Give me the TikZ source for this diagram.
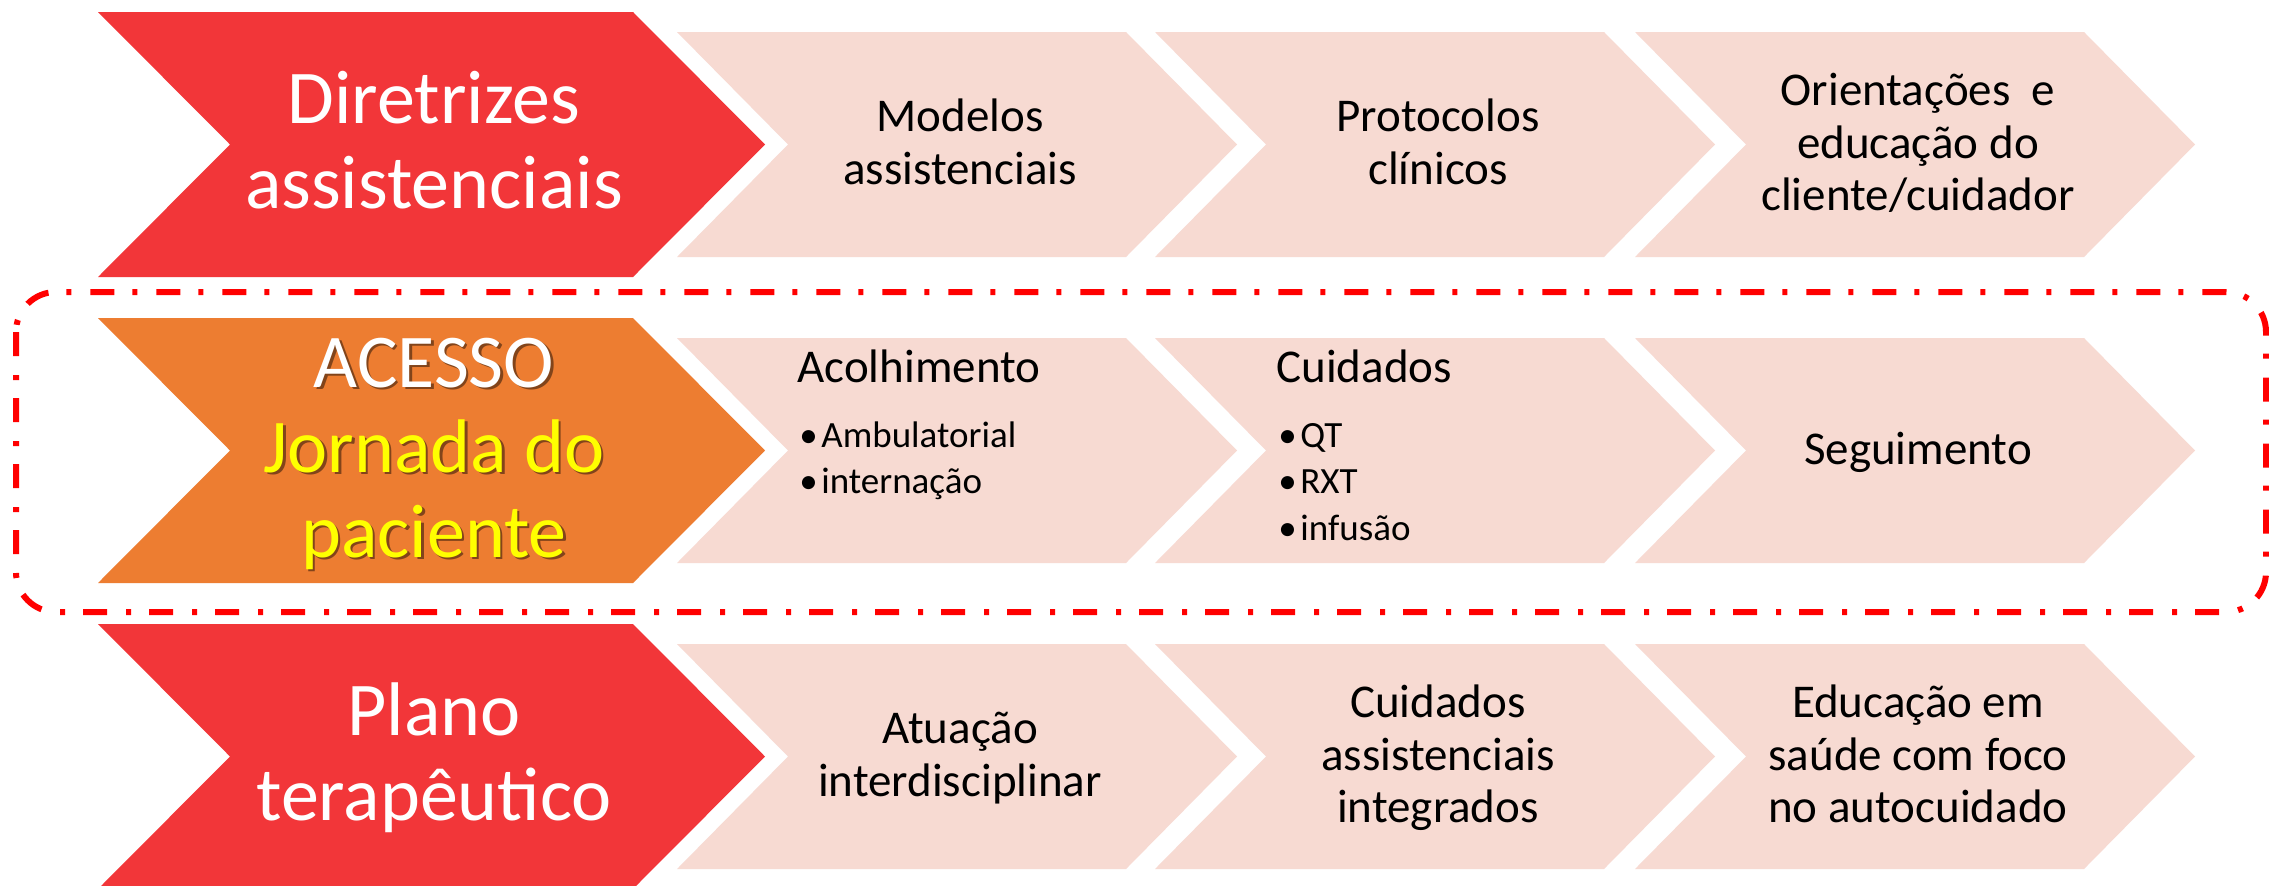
\documentclass[tikz,border=0pt]{standalone}
\usepackage{fontspec}
\setmainfont{Carlito}
\definecolor{chevred}{RGB}{242,54,57}
\definecolor{chevorange}{RGB}{237,125,49}
\definecolor{chevpink}{RGB}{247,218,210}
\definecolor{dashred}{RGB}{255,0,0}
\definecolor{txtyellow}{RGB}{255,255,0}
% chevron: left x, top y, body width, height, point depth, fill colour
\newcommand{\chevshape}[6]{%
  \fill[#6] (#1,#2) -- ++(#3,0) -- ++(#5,#4/2) -- ++(-#5,#4/2) -- ++(-#3,0) -- ++(#5,-#4/2) -- cycle;}
\newcommand{\bul}{\makebox[11pt][l]{•}}
\begin{document}
\begin{tikzpicture}[x=0.5pt,y=-0.5pt,
  bigtxt/.style={font=\fontsize{38}{42.5}\selectfont, align=center, inner sep=0pt},
  smalltxt/.style={font=\fontsize{23.5}{26.25}\selectfont, align=center, inner sep=0pt, text=black},
  headtxt/.style={font=\fontsize{23.5}{26.25}\selectfont, anchor=base west, inner sep=0pt, text=black},
  bullettxt/.style={font=\fontsize{18.5}{23}\selectfont, anchor=base west, inner sep=0pt, text=black},
  accessline/.style={draw=dashred, line width=3pt, rounded corners=20pt,
    dash pattern=on 12pt off 9.5pt on 2.5pt off 9pt}]
\useasboundingbox (0,0) rectangle (2269,885);
\clip (0,0) rectangle (2269,885);
\fill[white] (0,0) rectangle (2269,885);

% ---------- Row 1 ----------
\chevshape{98}{12}{535}{265}{132}{chevred}
\chevshape{677}{32}{449}{225}{111}{chevpink}
\chevshape{1155}{32}{449}{225}{111}{chevpink}
\chevshape{1635}{32}{449}{225}{111}{chevpink}
\node[bigtxt, text=white] (dir) at (434,149) {\strut Diretrizes\\\strut assistenciais};
\node[smalltxt] (mod) at (960,147.5) {\strut Modelos\\\strut assistenciais};
\node[smalltxt] (prot) at (1438,147.5) {\strut Protocolos\\\strut clínicos};
\node[smalltxt] (orient) at (1918,147.5) {\strut Orientações\ \ e\\\strut educação do\\\strut cliente/cuidador};

% ---------- Row 2 ----------
\chevshape{98}{318}{535}{265}{132}{chevorange}
\chevshape{677}{338}{449}{225}{111}{chevpink}
\chevshape{1155}{338}{449}{225}{111}{chevpink}
\chevshape{1635}{338}{449}{225}{111}{chevpink}
\node[bigtxt, text=black, opacity=0.45] (accshadow) at (436.5,457.5)
  {\strut ACESSO\\\strut Jornada do\\\strut paciente};
\node[bigtxt] (acesso) at (434,455)
  {{\color{white}\strut ACESSO}\\{\color{txtyellow}\strut Jornada do}\\{\color{txtyellow}\strut paciente}};
\node[headtxt] (acol) at (797,382) {Acolhimento};
\node[bullettxt] (amb) at (799,447) {\bul Ambulatorial};
\node[bullettxt] (intern) at (799,493) {\bul internação};
\node[headtxt] (cuid) at (1276,382) {Cuidados};
\node[bullettxt] (qt) at (1278,447) {\bul QT};
\node[bullettxt] (rxt) at (1278,493) {\bul RXT};
\node[bullettxt] (infus) at (1278,540) {\bul infusão};
\node[smalltxt] (seg) at (1918,453.5) {\strut Seguimento};

% ---------- Row 3 ----------
\chevshape{98}{624}{535}{265}{132}{chevred}
\chevshape{677}{644}{449}{225}{111}{chevpink}
\chevshape{1155}{644}{449}{225}{111}{chevpink}
\chevshape{1635}{644}{449}{225}{111}{chevpink}
\node[bigtxt, text=white] (plano) at (434,761) {\strut Plano\\\strut terapêutico};
\node[smalltxt] (atu) at (960,759.5) {\strut Atuação\\\strut interdisciplinar};
\node[smalltxt] (cuidint) at (1438,759.5) {\strut Cuidados\\\strut assistenciais\\\strut integrados};
\node[smalltxt] (educ) at (1918,759.5) {\strut Educação em\\\strut saúde com foco\\\strut no autocuidado};

% ---------- dashed frame round the ACESSO row ----------
\draw[accessline] (16,292) rectangle (2266,612);
\end{tikzpicture}
\end{document}
